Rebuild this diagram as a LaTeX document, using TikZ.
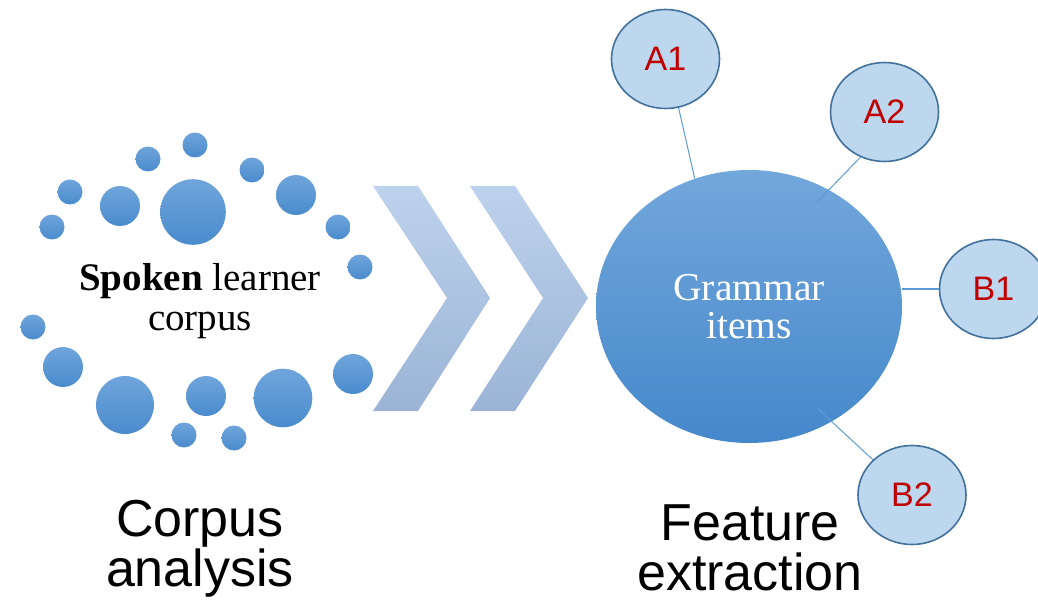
\documentclass[tikz,border=0pt]{standalone}
\usepackage{fontspec}
\setmainfont{Liberation Serif}
\newfontfamily\arialfont{Liberation Sans}
\usepackage{tikz}
\usetikzlibrary{shapes.geometric}
\definecolor{dottop}{HTML}{6FA5DB}
\definecolor{dotbot}{HTML}{4A8BCD}
\definecolor{chevtop}{HTML}{BDD2EC}
\definecolor{chevbot}{HTML}{9BB4D6}
\definecolor{hubtop}{HTML}{72A7DB}
\definecolor{hubbot}{HTML}{4588CB}
\definecolor{leaffill}{HTML}{BDD7EE}
\definecolor{leafline}{HTML}{41719C}
\definecolor{leaftext}{HTML}{C00000}
\definecolor{linkblue}{HTML}{5B9BD5}
\tikzset{
  dotfill/.style={top color=dottop, bottom color=dotbot, draw=none},
  chev/.style={top color=chevtop, bottom color=chevbot, draw=none},
  hub/.style={ellipse, top color=hubtop, bottom color=hubbot, minimum width=306pt, minimum height=273pt, inner sep=0pt, text=white, align=center, font=\fontsize{39.5}{38}\selectfont},
  leaf/.style={ellipse, fill=leaffill, draw=leafline, line width=1.6pt, minimum width=108pt, minimum height=99pt, inner sep=0pt, text=leaftext, font=\arialfont\fontsize{34}{36}\selectfont},
  link/.style={draw=linkblue, line width=1pt},
  corelab/.style={text=black, align=center, font=\fontsize{39}{40}\selectfont},
  title/.style={text=black, align=center, font=\arialfont\fontsize{52}{50}\selectfont}
}

\begin{document}
\begin{tikzpicture}[x=1pt, y=-1pt]
  \useasboundingbox (0,0) rectangle (1038,604);
  \shade[dotfill] (70,192) circle (12.5pt);
  \shade[dotfill] (52,227) circle (12.5pt);
  \shade[dotfill] (120,206) circle (20pt);
  \shade[dotfill] (148,159) circle (12.5pt);
  \shade[dotfill] (195,145) circle (12.5pt);
  \shade[dotfill] (193,212) circle (32.8pt);
  \shade[dotfill] (252,170) circle (12.5pt);
  \shade[dotfill] (296,195) circle (20pt);
  \shade[dotfill] (338,227) circle (12.5pt);
  \shade[dotfill] (360,267) circle (12.5pt);
  \shade[dotfill] (33,327) circle (12.5pt);
  \shade[dotfill] (63,367) circle (20pt);
  \shade[dotfill] (125,405) circle (29pt);
  \shade[dotfill] (206,396) circle (20pt);
  \shade[dotfill] (283,398) circle (29.3pt);
  \shade[dotfill] (353,374) circle (20pt);
  \shade[dotfill] (184,435) circle (12.5pt);
  \shade[dotfill] (234,438) circle (12.5pt);
  \node[corelab] (spoken) at (200,301) {\textbf{Spoken} learner\\corpus};

  \shade[chev] (373,186) -- (418,186) -- (490,298) -- (418,411) -- (373,411) -- (447,298) -- cycle;
  \shade[chev] (470,186) -- (515,186) -- (588,298) -- (515,411) -- (470,411) -- (543,298) -- cycle;

  \node[hub] (G) at (749,306.5) {Grammar\\items};
  \node[leaf] (A1) at (665.5,59) {A1};
  \node[leaf] (A2) at (884.5,112) {A2};
  \node[leaf] (B1) at (993.5,289) {B1};
  \node[leaf] (B2) at (912,495) {B2};
  \coordinate (A2in) at (817,202);
  \coordinate (B2in) at (817,408);
  \draw[link] (A1.-75) -- (G.113);
  \draw[link] (A2.-118) -- (A2in);
  \draw[link, line width=2pt] (B1.west) -- (B1.west -| G.east);
  \draw[link] (B2.138) -- (B2in);

  \node[title] (corpus) at (200,549) {Corpus\\analysis};
  \node[title] (feature) at (750,548) {Feature\\extraction};
\end{tikzpicture}
\end{document}
